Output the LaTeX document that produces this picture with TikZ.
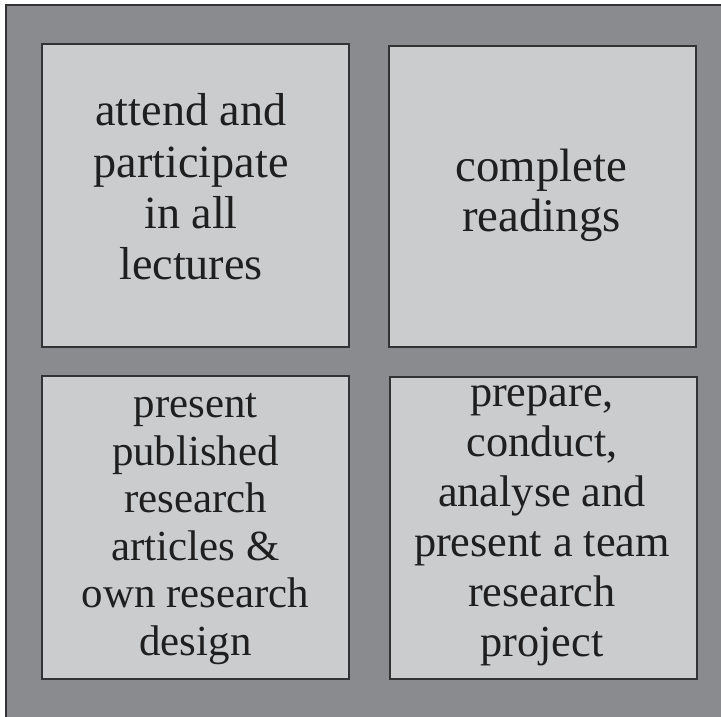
\documentclass[tikz,border=0pt]{standalone}
\usepackage{fontspec}
\setmainfont{Liberation Serif}
\definecolor{outerg}{HTML}{8A8B8E}
\definecolor{innerg}{HTML}{CBCCCE}
\definecolor{edgeg}{HTML}{333335}
\begin{document}
\begin{tikzpicture}[x=1pt,y=-1pt,
  panel/.style={draw=edgeg, line width=1.6pt, fill=innerg},
  lbl/.style={align=center, text=black!88, inner sep=0pt}]
\useasboundingbox (0,0) rectangle (721,717);
\fill[white] (0,0) rectangle (721,717);
\draw[draw=edgeg, line width=1.6pt, fill=outerg] (6,5) rectangle (725,722);
\draw[panel] (42,44) rectangle (349,347) coordinate (b1);
\draw[panel] (389,46) rectangle (696,347) coordinate (b2);
\draw[panel] (42,376) rectangle (349,679) coordinate (b3);
\draw[panel] (390,377) rectangle (697,679) coordinate (b4);
\node[lbl, font=\fontsize{46.2}{51.3}\selectfont] (t1) at (191,187) {attend and\\participate\\in all\\lectures};
\node[lbl, font=\fontsize{46.8}{50}\selectfont] (t2) at (541.5,195) {complete\\readings};
\node[lbl, font=\fontsize{42.9}{47.6}\selectfont] (t3) at (195.5,529) {present\\published\\research\\articles \&\\own research\\design};
\node[lbl, font=\fontsize{44.3}{50}\selectfont] (t4) at (542,526) {prepare,\\conduct,\\analyse and\\present a team\\research\\project};
\end{tikzpicture}
\end{document}
